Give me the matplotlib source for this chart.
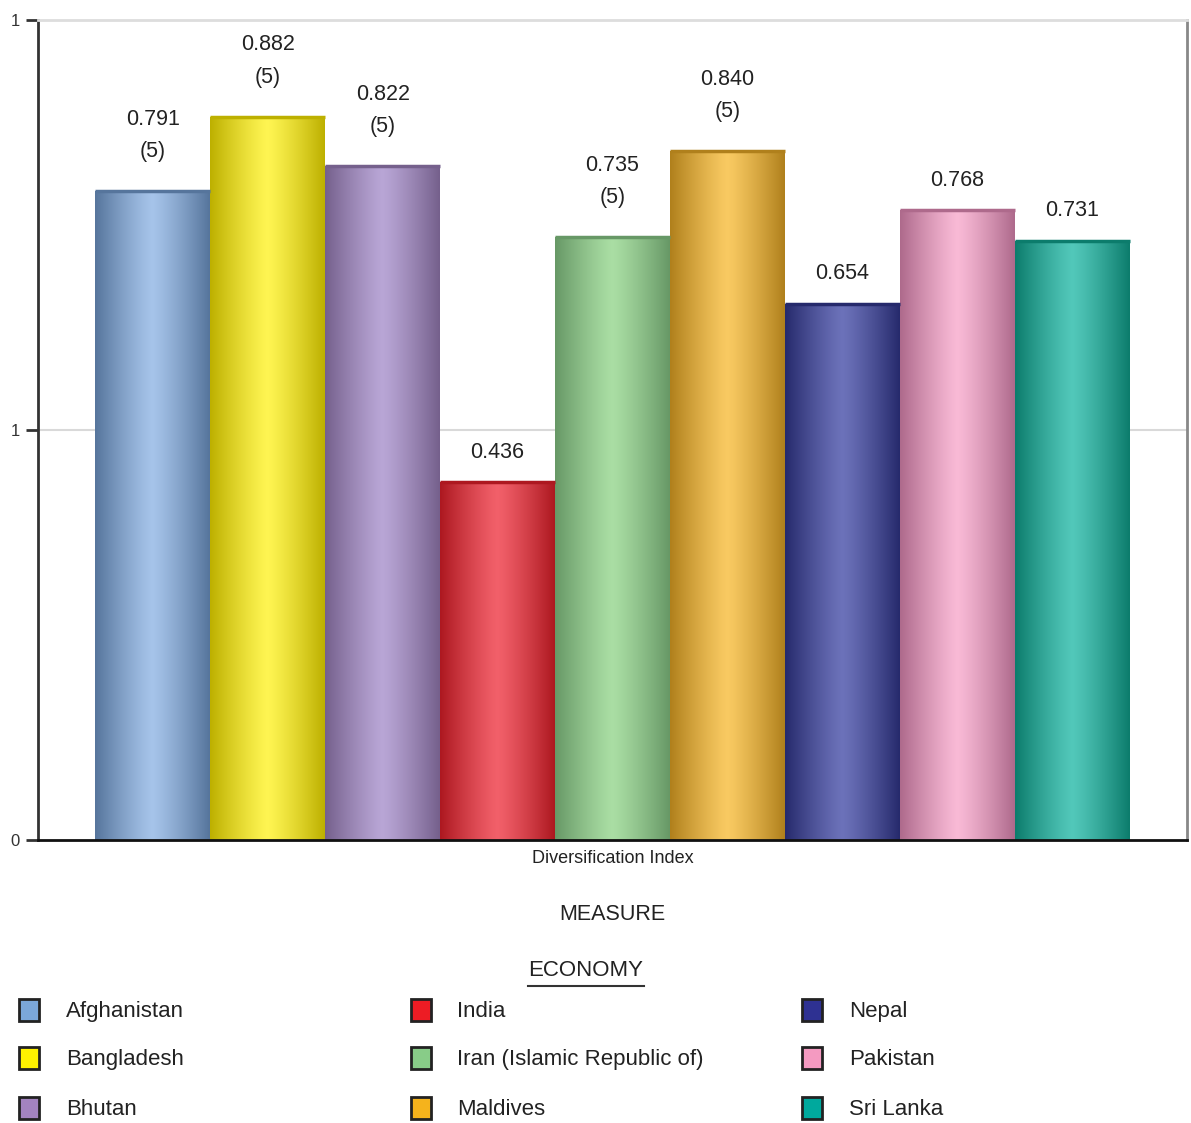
import matplotlib
matplotlib.use('Agg')
import matplotlib.pyplot as plt
import matplotlib.colors as mcolors
from matplotlib.patches import Rectangle
from matplotlib.lines import Line2D
import numpy as np

plt.rcParams['font.family'] = ['Liberation Sans', 'DejaVu Sans']

countries = ['Afghanistan', 'Bangladesh', 'Bhutan', 'India', 'Iran (Islamic Republic of)',
             'Maldives', 'Nepal', 'Pakistan', 'Sri Lanka']
values = [0.791, 0.882, 0.822, 0.436, 0.735, 0.840, 0.654, 0.768, 0.731]
counts = [5, 5, 5, None, 5, 5, None, None, None]
measure = 'Diversification Index'

# legend swatch colour, bar edge (dark) colour, bar centre (light) colour
swatch = ['#7ba7d9', '#fff200', '#a383c0', '#ed1c24', '#88cc88', '#f5b31c', '#2e3192', '#f49ac1', '#00a99d']
dark = ['#56759c', '#bdb000', '#75608c', '#ad1820', '#679866', '#b0801c', '#262a6c', '#ae6a8c', '#0c7c6c']
light = ['#a6c4ea', '#fff552', '#b9a6d6', '#f2606a', '#aadea4', '#f9ca62', '#6c72ba', '#f9bad6', '#52c8ba']

fig = plt.figure(figsize=(11.91, 11.23), dpi=100)
W, H = 1191, 1123
ax = fig.add_axes([38 / W, 1 - 840 / H, (1187 - 38) / W, (840 - 20) / H])

x = np.arange(len(values))
ax.set_xlim(-1, 9)
ax.set_ylim(0, 1)

ax.axhline(0.5, color='#d9d9d9', lw=1.5, zorder=0)

t = np.linspace(0, 1, 200)
prof = 1 - np.abs(2 * t - 1) ** 1.2
for i, v in enumerate(values):
    bars = ax.bar(x[i], v, width=1.0, color=swatch[i], edgecolor='none', zorder=2)
    patch = bars[0]
    c0 = np.array(mcolors.to_rgb(dark[i]))
    c1 = np.array(mcolors.to_rgb(light[i]))
    img = c0[None, :] + prof[:, None] * (c1 - c0)[None, :]
    im = ax.imshow(img[None, :, :], extent=[x[i] - 0.5, x[i] + 0.5, 0, v],
                   aspect='auto', zorder=3, interpolation='bilinear')
    im.set_clip_path(patch)
    ax.plot([x[i] - 0.5, x[i] + 0.5], [v, v], color=dark[i], lw=2.5, zorder=4,
            solid_capstyle='butt')
    if counts[i] is None:
        label, off = f'{v:.3f}', 14
    else:
        label, off = f'{v:.3f}\n({counts[i]})', 21
    ax.annotate(label, (x[i], v), xytext=(0, off), textcoords='offset points',
                ha='center', va='bottom', fontsize=15.5, color='#222222',
                linespacing=1.7, zorder=5)

ax.set_xlim(-1, 9)
ax.set_ylim(0, 1)

ax.set_yticks([0, 0.5, 1])
ax.set_yticklabels(['0', '1', '1'])
ax.tick_params(axis='y', length=9, width=2, color='#333333', labelsize=12,
               labelcolor='#333333', pad=4)
ax.set_xticks([])

ax.spines['left'].set_color('#333333')
ax.spines['left'].set_linewidth(2)
ax.spines['bottom'].set_color('#111111')
ax.spines['bottom'].set_linewidth(2)
ax.spines['bottom'].set_zorder(6)
ax.spines['top'].set_color('#dddddd')
ax.spines['top'].set_linewidth(2)
ax.spines['right'].set_color('#888888')
ax.spines['right'].set_linewidth(2)

ax.text(4, -0.022, measure, ha='center', va='center', fontsize=13, color='#222222')

fig.text(612 / W, 1 - 914 / H, 'MEASURE', ha='center', va='center', fontsize=15.5, color='#222222')
fig.text(586 / W, 1 - 970 / H, 'ECONOMY', ha='center', va='center', fontsize=16, color='#222222')
fig.add_artist(Line2D([528 / W, 644 / W], [1 - 986 / H, 1 - 986 / H], color='#333333', lw=1.5))

col_x = [19, 411, 802]
text_x = [66, 457, 849]
row_y = [1010, 1058, 1108]
for i, name in enumerate(countries):
    c, r = divmod(i, 3)
    fig.add_artist(Rectangle((col_x[c] / W, 1 - (row_y[r] + 11) / H), 20 / W, 22 / H,
                             facecolor=swatch[i], edgecolor='#222222', lw=2,
                             transform=fig.transFigure))
    fig.text(text_x[c] / W, 1 - (row_y[r] + 7) / H, name, ha='left', va='baseline',
             fontsize=16, color='#222222')

fig.savefig('out.png', dpi=100)
